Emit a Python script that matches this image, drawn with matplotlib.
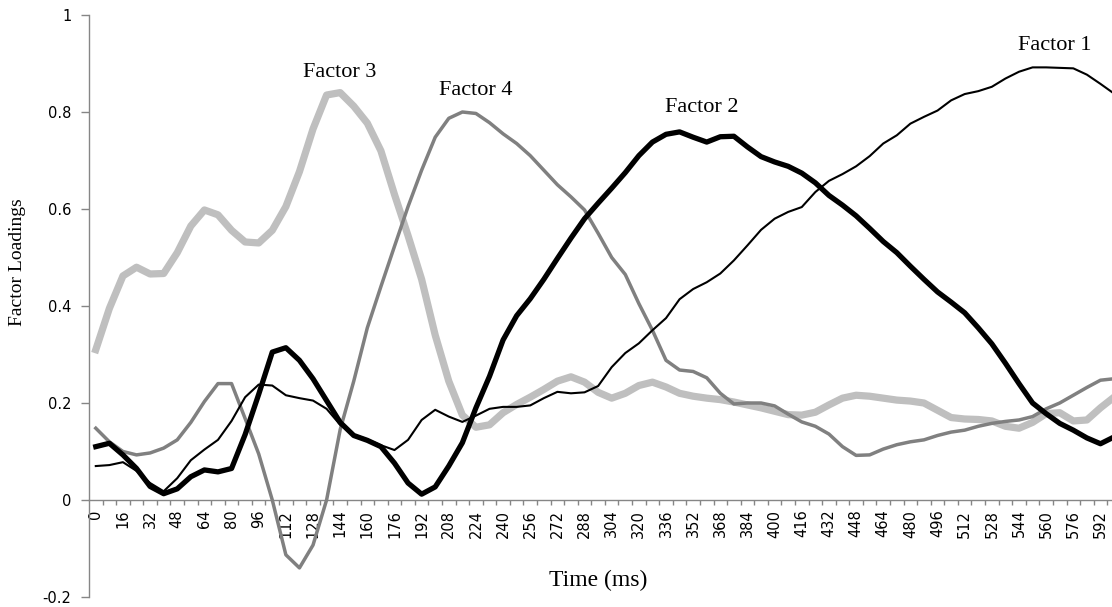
import matplotlib
matplotlib.use("Agg")
import matplotlib.pyplot as plt
from matplotlib.ticker import FixedLocator

time_ms = list(range(0, 601, 8))

factor1 = [0.070, 0.072, 0.078, 0.060, 0.035, 0.018, 0.045, 0.082, 0.104, 0.124,
           0.163, 0.212, 0.238, 0.236, 0.216, 0.210, 0.205, 0.188, 0.155, 0.135,
           0.125, 0.113, 0.103, 0.124, 0.165, 0.186, 0.172, 0.161, 0.174, 0.188,
           0.192, 0.192, 0.195, 0.210, 0.223, 0.220, 0.222, 0.235, 0.274, 0.303,
           0.323, 0.350, 0.375, 0.414, 0.435, 0.449, 0.467, 0.494, 0.525, 0.557,
           0.580, 0.594, 0.604, 0.635, 0.658, 0.672, 0.688, 0.709, 0.735, 0.752,
           0.776, 0.790, 0.803, 0.824, 0.837, 0.843, 0.852, 0.869, 0.883, 0.892,
           0.892, 0.891, 0.890, 0.877, 0.858, 0.838]

factor2 = [0.110, 0.117, 0.093, 0.065, 0.028, 0.013, 0.023, 0.048, 0.062, 0.058,
           0.065, 0.135, 0.218, 0.305, 0.314, 0.288, 0.250, 0.205, 0.160, 0.133,
           0.123, 0.110, 0.076, 0.035, 0.012, 0.027, 0.070, 0.118, 0.190, 0.255,
           0.330, 0.380, 0.415, 0.455, 0.498, 0.540, 0.580, 0.612, 0.643, 0.675,
           0.710, 0.738, 0.754, 0.759, 0.748, 0.738, 0.749, 0.750, 0.728, 0.708,
           0.697, 0.688, 0.674, 0.654, 0.628, 0.608, 0.586, 0.560, 0.533, 0.510,
           0.482, 0.455, 0.429, 0.408, 0.386, 0.355, 0.322, 0.282, 0.240, 0.200,
           0.178, 0.158, 0.144, 0.128, 0.116, 0.130]

factor3 = [0.310, 0.395, 0.462, 0.480, 0.466, 0.467, 0.510, 0.565, 0.598, 0.588,
           0.556, 0.532, 0.530, 0.556, 0.605, 0.677, 0.765, 0.835, 0.840, 0.812,
           0.777, 0.720, 0.630, 0.545, 0.455, 0.340, 0.245, 0.175, 0.150, 0.155,
           0.180, 0.197, 0.212, 0.228, 0.245, 0.254, 0.243, 0.222, 0.210, 0.220,
           0.236, 0.243, 0.233, 0.220, 0.214, 0.210, 0.207, 0.202, 0.196, 0.190,
           0.183, 0.176, 0.175, 0.181, 0.196, 0.210, 0.216, 0.214, 0.210, 0.206,
           0.204, 0.200, 0.185, 0.170, 0.167, 0.166, 0.163, 0.152, 0.148, 0.160,
           0.178, 0.180, 0.163, 0.165, 0.190, 0.212]

factor4 = [0.148, 0.120, 0.100, 0.093, 0.097, 0.107, 0.124, 0.160, 0.203, 0.240,
           0.240, 0.168, 0.095, 0.000, -0.113, -0.140, -0.093, 0.000, 0.145, 0.245,
           0.355, 0.440, 0.523, 0.605, 0.680, 0.748, 0.787, 0.800, 0.797, 0.778,
           0.755, 0.735, 0.710, 0.680, 0.650, 0.625, 0.598, 0.550, 0.500, 0.465,
           0.405, 0.350, 0.288, 0.268, 0.265, 0.252, 0.220, 0.198, 0.200, 0.200,
           0.194, 0.177, 0.161, 0.152, 0.136, 0.110, 0.092, 0.093, 0.105, 0.114,
           0.120, 0.124, 0.133, 0.140, 0.144, 0.152, 0.158, 0.162, 0.165, 0.172,
           0.188, 0.200, 0.216, 0.232, 0.247, 0.250]

x_tick_labels = [str(t) for t in range(0, 593, 16)]
y_ticks = [-0.2, 0, 0.2, 0.4, 0.6, 0.8, 1]
y_tick_labels = ["-0.2", "0", "0.2", "0.4", "0.6", "0.8", "1"]

labels = ["Factor 1", "Factor 2", "Factor 3", "Factor 4"]

fig = plt.figure(figsize=(11.12, 6.07), dpi=100)
ax = fig.add_axes([89 / 1112, 1 - 597 / 607, 1 - 89 / 1112, (597 - 15) / 607])

axis_gray = "#868686"
serif = "Liberation Serif"

ax.plot(time_ms, factor3, color="#BFBFBF", lw=5.2, solid_joinstyle="round", zorder=2)
ax.plot(time_ms, factor4, color="#808080", lw=2.5, solid_joinstyle="round", zorder=3)
ax.plot(time_ms, factor1, color="black", lw=1.5, solid_joinstyle="round", zorder=4)
ax.plot(time_ms, factor2, color="black", lw=3.8, solid_joinstyle="round", zorder=5)

ax.set_xlim(-4, 598.8)
ax.set_ylim(-0.2, 1.0)

for s in ["top", "right"]:
    ax.spines[s].set_visible(False)
ax.spines["left"].set_color(axis_gray)
ax.spines["bottom"].set_color(axis_gray)
ax.spines["bottom"].set_position(("data", 0))
ax.spines["left"].set_linewidth(1.0)
ax.spines["bottom"].set_linewidth(1.0)

ax.set_yticks(y_ticks)
ax.set_yticklabels(y_tick_labels, fontsize=10.5, family="DejaVu Sans")
ax.tick_params(axis="y", direction="out", length=5.8, color=axis_gray, width=1.0, pad=7)

ax.xaxis.set_major_locator(FixedLocator(list(range(0, 593, 16))))
ax.set_xticklabels(x_tick_labels, rotation=90, fontsize=10.5, family="DejaVu Sans")
ax.tick_params(axis="x", which="major", length=0, pad=7)
ax.xaxis.set_minor_locator(FixedLocator(list(range(4, 600, 8))))
ax.tick_params(axis="x", which="minor", direction="out", length=3.5, color=axis_gray, width=1.0)

ax.set_ylabel("Factor Loadings", fontsize=14, family=serif)
ax.yaxis.set_label_coords(-0.062, 0.575)

fig.text(598 / 1112, 1 - 580 / 607, "Time (ms)", fontsize=17, family=serif,
         ha="center", va="center")

ax.text(144, 0.882, labels[2], fontsize=16, family=serif, ha="center", va="center")
ax.text(224, 0.845, labels[3], fontsize=16, family=serif, ha="center", va="center")
ax.text(357, 0.810, labels[1], fontsize=16, family=serif, ha="center", va="center")
ax.text(565, 0.938, labels[0], fontsize=16, family=serif, ha="center", va="center")

fig.savefig("out.png", dpi=100)
